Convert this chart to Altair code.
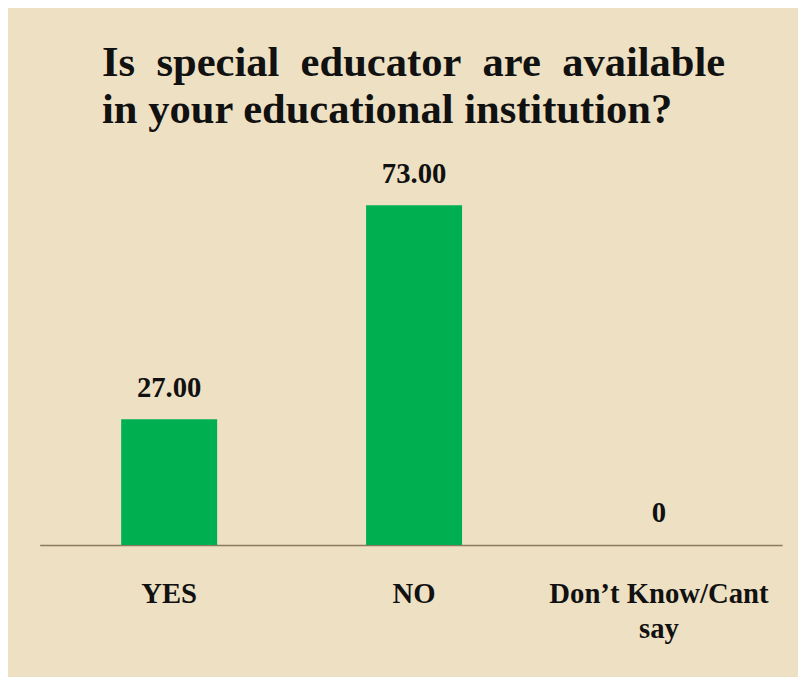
import altair as alt
import pandas as pd

categories = ["YES", "NO", "Don\u2019t Know/Cant say"]
values = [27.00, 73.00, 0]

title_lines = ["Is\u00a0 special\u00a0 educator\u00a0 are\u00a0 available",
               "in your educational institution?"]

df = pd.DataFrame({"category": categories, "value": values})

FONT = "Liberation Serif"

x_enc = alt.X(
    "category:N",
    sort=categories,
    title=None,
    scale=alt.Scale(paddingInner=0.608, paddingOuter=0.32, align=0.52),
    axis=alt.Axis(
        labelAngle=0,
        labelFont=FONT,
        labelFontSize=29,
        labelFontWeight="bold",
        labelColor="#111111",
        labelBaseline="top",
        labelPadding=35,
        labelLineHeight=36,
        labelLimit=400,
        labelExpr="datum.label == 'Don\u2019t Know/Cant say' ? ['Don\u2019t Know/Cant', 'say'] : datum.label",
        ticks=False,
        tickSize=0,
        domainColor="#8a7a62",
        domainWidth=1.5,
        grid=False,
    ),
)

y_enc = alt.Y("value:Q", scale=alt.Scale(domain=[0, 80]), axis=None)

bars = alt.Chart(df).mark_bar(color="#00b050").encode(x=x_enc, y=y_enc)

labels = alt.Chart(df).transform_calculate(
    lab="datum.value == 0 ? '0' : format(datum.value, '.2f')"
).mark_text(
    font=FONT, fontSize=29, fontWeight="bold", color="#111111",
    baseline="alphabetic", dy=-23
).encode(x=x_enc, y=y_enc, text="lab:N")

chart = alt.layer(bars, labels).properties(
    width=750,
    height=376,
    background="#eee1c3",
    padding={"left": 32, "top": 163, "right": 16, "bottom": 130},
    autosize=alt.AutoSizeParams(type="none"),
    title=alt.TitleParams(
        text=title_lines,
        anchor="start",
        frame="group",
        dx=63,
        dy=6,
        offset=0,
        font=FONT,
        fontSize=43,
        fontWeight="bold",
        color="#111111",
        lineHeight=48,
        baseline="alphabetic",
    ),
).configure_view(stroke=None)

chart.save("out.html", embed_options={"renderer": "svg", "actions": False})
